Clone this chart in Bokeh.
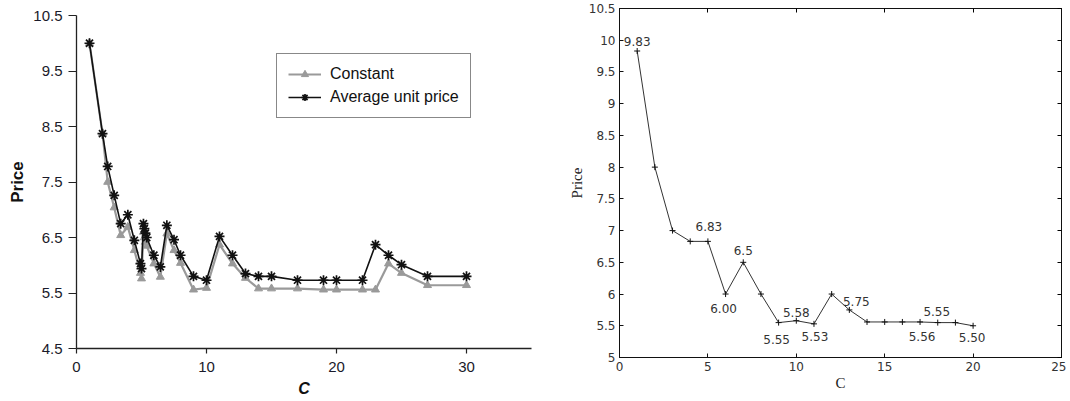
from bokeh.plotting import figure
from bokeh.layouts import row, column
from bokeh.models import FixedTicker, LinearAxis, Legend, CustomJSTickFormatter, Range1d
from bokeh.core.properties import value
from bokeh.embed import file_html
from bokeh.resources import INLINE

# ---------------- data: left panel ----------------
c_left = [1, 2, 2.4, 2.9, 3.4, 3.95, 4.45, 4.92, 5.0, 5.15, 5.22, 5.3, 5.4, 5.95, 6.45,
          6.95, 7.5, 8, 9, 10, 11, 12, 13, 14, 15, 17, 19, 20, 22, 23, 24, 25, 27, 30]
avg_price = [10.0, 8.37, 7.78, 7.26, 6.75, 6.91, 6.45, 6.03, 5.94, 6.75, 6.66, 6.58, 6.5,
             6.18, 5.97, 6.72, 6.46, 6.18, 5.80, 5.73, 6.52, 6.18, 5.85, 5.80, 5.80, 5.73,
             5.73, 5.73, 5.73, 6.37, 6.18, 6.01, 5.80, 5.80]
const_price = [10.0, 8.37, 7.5, 7.04, 6.54, 6.69, 6.27, 5.86, 5.76, 6.6, 6.5, 6.42, 6.35,
               6.03, 5.79, 6.57, 6.27, 6.04, 5.56, 5.59, 6.37, 6.03, 5.77, 5.58, 5.58, 5.58,
               5.56, 5.56, 5.56, 5.56, 6.03, 5.86, 5.64, 5.64]
left_xticks = [0, 10, 20, 30]
left_yticks = [4.5, 5.5, 6.5, 7.5, 8.5, 9.5, 10.5]

# ---------------- data: right panel ----------------
c_right = list(range(1, 21))
price_right = [9.83, 8.0, 7.0, 6.83, 6.83, 6.00, 6.5, 6.0, 5.55, 5.58,
               5.53, 6.0, 5.75, 5.56, 5.56, 5.56, 5.56, 5.55, 5.55, 5.50]
ann_x = [1, 5, 7, 6, 9, 10, 11, 13, 17, 18, 20]
ann_y = [9.83, 6.83, 6.5, 6.00, 5.55, 5.58, 5.53, 5.75, 5.56, 5.55, 5.50]
ann_text = ["9.83", "6.83", "6.5", "6.00", "5.55", "5.58", "5.53", "5.75", "5.56", "5.55", "5.50"]
ann_dx = [0, 1, 0, -2, -2, 0, 1, 7, 2, -1, -1]
ann_dy = [-5, -10, -7, 10, 12, -4, 8, -4, 10, -7, 7]
ann_base = ["bottom", "bottom", "bottom", "top", "top", "bottom", "top", "bottom", "top", "bottom", "top"]
right_xticks = [0, 5, 10, 15, 20, 25]
right_yticks = [5, 5.5, 6, 6.5, 7, 7.5, 8, 8.5, 9, 9.5, 10, 10.5]

H = 399
W1 = 545
W2 = 521

# ---------------- left figure ----------------
FONT = "Liberation Sans"
p1 = figure(width=W1, height=H, output_backend="svg", toolbar_location=None,
            x_range=Range1d(0, 35), y_range=Range1d(4.5, 10.5),
            min_border_left=76, min_border_right=W1 - 531, min_border_top=15,
            min_border_bottom=H - 348)
p1.outline_line_color = None
p1.grid.visible = False
for ax in (p1.xaxis[0], p1.yaxis[0]):
    ax.axis_line_color = "#222222"
    ax.axis_line_width = 1.3
    ax.major_tick_line_color = "#222222"
    ax.major_tick_line_width = 1.2
    ax.minor_tick_line_color = None
    ax.major_tick_in = 0
    ax.major_label_text_font = FONT
    ax.major_label_text_font_size = "15px"
    ax.major_label_text_color = "#1a1a2a"
    ax.axis_label_text_font = FONT
    ax.axis_label_text_font_style = "bold"
    ax.axis_label_text_color = "#111111"
p1.xaxis[0].ticker = FixedTicker(ticks=left_xticks)
p1.yaxis[0].ticker = FixedTicker(ticks=left_yticks)
p1.xaxis[0].major_tick_out = 5
p1.yaxis[0].major_tick_out = 8
p1.xaxis[0].major_label_standoff = 8
p1.yaxis[0].major_label_standoff = 6
p1.xaxis[0].axis_label = "C"
p1.xaxis[0].axis_label_text_font_style = "bold italic"
p1.xaxis[0].axis_label_text_font_size = "16px"
p1.xaxis[0].axis_label_standoff = 5
p1.yaxis[0].axis_label = "Price"
p1.yaxis[0].axis_label_text_font_size = "17px"
p1.yaxis[0].axis_label_standoff = 3

gl1 = p1.line(c_left, const_price, line_color="#9a9a9a", line_width=2.2)
gs1 = p1.scatter(c_left, const_price, marker="triangle", size=8, fill_color="#9a9a9a",
                 line_color="#9a9a9a")
gl2 = p1.line(c_left, avg_price, line_color="#111111", line_width=1.6)
gs2 = p1.scatter(c_left, avg_price, marker="asterisk", size=10, line_color="#111111",
                 line_width=1.7)

legend = Legend(items=[("Constant", [gl1, gs1]), ("Average unit price", [gl2, gs2])],
                location=(200, 230))
legend.border_line_color = "#111111"
legend.border_line_width = 1.5
legend.background_fill_color = "white"
legend.background_fill_alpha = 1.0
legend.label_text_font = FONT
legend.label_text_font_size = "16px"
legend.label_text_color = "#111111"
legend.glyph_width = 33
legend.glyph_height = 18
legend.label_standoff = 9
legend.spacing = 5
legend.padding = 11
legend.margin = 0
p1.add_layout(legend, "center")

# ---------------- right figure ----------------
RFONT = "DejaVu Sans"
p2 = figure(width=W2, height=H, output_backend="svg", toolbar_location=None,
            x_range=Range1d(0, 25), y_range=Range1d(5, 10.5),
            min_border_left=619 - W1, min_border_right=W1 + W2 - 1061, min_border_top=8,
            min_border_bottom=H - 357)
p2.outline_line_color = "#111111"
p2.outline_line_width = 1
p2.grid.visible = False
fmt = CustomJSTickFormatter(code="return String(tick);")
for ax in (p2.xaxis[0], p2.yaxis[0]):
    ax.axis_line_color = "#111111"
    ax.major_tick_line_color = "#111111"
    ax.minor_tick_line_color = None
    ax.major_tick_in = 4
    ax.major_tick_out = 0
    ax.major_label_text_font = RFONT
    ax.major_label_text_font_size = "12px"
    ax.major_label_text_color = "#333333"
    ax.major_label_standoff = 4
    ax.formatter = fmt
    ax.axis_label_text_font = "Liberation Serif"
    ax.axis_label_text_font_style = "normal"
    ax.axis_label_text_font_size = "15px"
    ax.axis_label_text_color = "#222222"
p2.xaxis[0].ticker = FixedTicker(ticks=right_xticks)
p2.yaxis[0].ticker = FixedTicker(ticks=right_yticks)
p2.xaxis[0].axis_label = "C"
p2.xaxis[0].axis_label_standoff = 1
p2.yaxis[0].axis_label = "Price"
p2.yaxis[0].axis_label_standoff = 1

top_ax = LinearAxis(ticker=FixedTicker(ticks=right_xticks), major_label_text_font_size="0px",
                    major_label_standoff=0, major_tick_in=4, major_tick_out=0,
                    minor_tick_line_color=None, axis_line_color="#111111",
                    major_label_text_alpha=0)
right_ax = LinearAxis(ticker=FixedTicker(ticks=right_yticks), major_label_text_font_size="0px",
                      major_label_standoff=0, major_tick_in=4, major_tick_out=0,
                      minor_tick_line_color=None, axis_line_color="#111111",
                      major_label_text_alpha=0)
p2.add_layout(top_ax, "above")
p2.add_layout(right_ax, "right")

p2.line(c_right, price_right, line_color="#333333", line_width=1)
p2.scatter(c_right, price_right, marker="cross", size=6, line_color="#111111", line_width=1)
p2.text(x=ann_x, y=ann_y, text=ann_text, x_offset=ann_dx, y_offset=ann_dy,
        text_align="center", text_baseline=ann_base,
        text_font=value(RFONT), text_font_size="12px", text_color="#333333")

layout = row(column(p1), column(p2), spacing=0)
open("out.html", "w").write(file_html(layout, INLINE))
